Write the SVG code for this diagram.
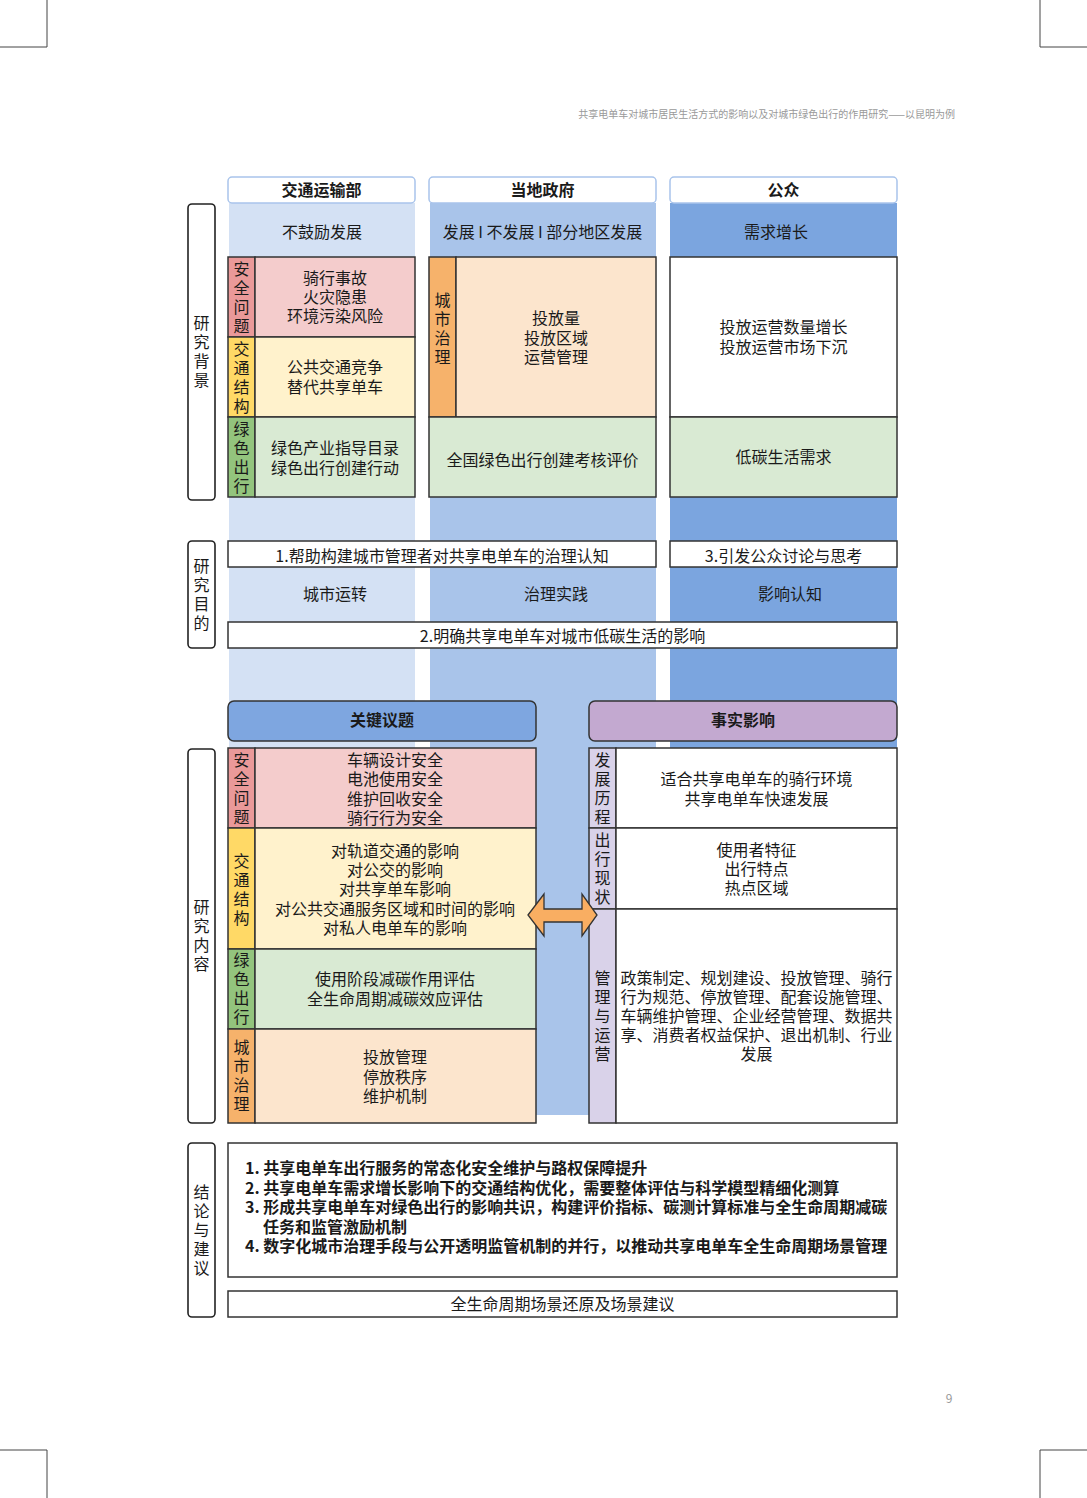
<svg xmlns="http://www.w3.org/2000/svg" width="1087" height="1498" viewBox="0 0 1087 1498">
<style>
text{font-family:"Noto Sans CJK SC","Noto Sans",sans-serif;font-size:16px;fill:#1a1a1a;text-anchor:middle}
.b{font-weight:bold}
.l{text-anchor:start}
.v{writing-mode:vertical-rl;text-anchor:start;letter-spacing:3px}
.cell{stroke:#333;stroke-width:1.5}
.side{fill:#fff;stroke:#222;stroke-width:1.6}
.hdr{fill:#fff;stroke:#A9C4EB;stroke-width:1.5}
.box{fill:#fff;stroke:#333;stroke-width:1.5}
.crop{stroke:#444;stroke-width:1;fill:none}
.red1{fill:#EA9999}.red2{fill:#F4CCCC}
.yel1{fill:#FFD966}.yel2{fill:#FFF2CC}
.grn1{fill:#93C47D}.grn2{fill:#D9EAD3}
.org1{fill:#F6B26B}.org2{fill:#FCE5CD}
.pur1{fill:#D9D2E9}
</style>

<!-- crop marks -->
<g id="cropmarks">
<path class="crop" d="M47,0V47H0M1040,0V47H1087M0,1450H47V1498M1087,1450H1040V1498"/>
</g>
<text x="955" y="118" style="font-size:10px;fill:#999;text-anchor:end">共享电单车对城市居民生活方式的影响以及对城市绿色出行的作用研究——以昆明为例</text>
<text x="949" y="1403" style="font-size:12px;fill:#999">9</text>

<!-- column backgrounds -->
<g id="columns">
<rect x="229" y="203" width="186" height="545" fill="#D4E1F4"/>
<rect x="430" y="203" width="226" height="912" fill="#A9C4EA"/>
<rect x="670" y="203" width="227" height="545" fill="#7BA5DF"/>
</g>

<!-- side labels -->
<g id="side-bg">
<rect class="side" x="188" y="204" width="27" height="296" rx="4"/>
<text class="v" x="201.5" y="315">研究背景</text>
</g>
<g id="side-purpose">
<rect class="side" x="188" y="541" width="27" height="107" rx="4"/>
<text class="v" x="201.5" y="558">研究目的</text>
</g>
<g id="side-content">
<rect class="side" x="188" y="749" width="27" height="374" rx="4"/>
<text class="v" x="201.5" y="899">研究内容</text>
</g>
<g id="side-conclusion">
<rect class="side" x="188" y="1143" width="27" height="174" rx="4"/>
<text class="v" x="201.5" y="1184">结论与建议</text>
</g>

<!-- column headers -->
<g id="hdr-transport">
<rect class="hdr" x="228" y="177" width="187" height="26" rx="4"/>
<text class="b" x="321.5" y="196">交通运输部</text>
<text x="322" y="238">不鼓励发展</text>
</g>
<g id="hdr-gov">
<rect class="hdr" x="429" y="177" width="227" height="26" rx="4"/>
<text class="b" x="542.5" y="196">当地政府</text>
<text x="542.5" y="238">发展 I 不发展 I 部分地区发展</text>
</g>
<g id="hdr-public">
<rect class="hdr" x="670" y="177" width="227" height="26" rx="4"/>
<text class="b" x="783.5" y="196">公众</text>
<text x="776" y="238">需求增长</text>
</g>

<!-- top table col1 -->
<g id="bg-safety">
<rect class="cell red1" x="228" y="257" width="27" height="80"/>
<rect class="cell red2" x="255" y="257" width="160" height="80"/>
<text class="v" x="241.5" y="261">安全问题</text>
<text x="335" y="284">骑行事故<tspan x="335" dy="19">火灾隐患</tspan><tspan x="335" dy="19">环境污染风险</tspan></text>
</g>
<g id="bg-traffic">
<rect class="cell yel1" x="228" y="337" width="27" height="80"/>
<rect class="cell yel2" x="255" y="337" width="160" height="80"/>
<text class="v" x="241.5" y="341">交通结构</text>
<text x="335" y="373">公共交通竞争<tspan x="335" dy="19.5">替代共享单车</tspan></text>
</g>
<g id="bg-green">
<rect class="cell grn1" x="228" y="417" width="27" height="80"/>
<rect class="cell grn2" x="255" y="417" width="160" height="80"/>
<text class="v" x="241.5" y="421">绿色出行</text>
<text x="335" y="454">绿色产业指导目录<tspan x="335" dy="19.5">绿色出行创建行动</tspan></text>
</g>
<!-- top table col2 -->
<g id="bg-governance">
<rect class="cell org1" x="429" y="257" width="27" height="160"/>
<rect class="cell org2" x="456" y="257" width="200" height="160"/>
<text class="v" x="442.5" y="292">城市治理</text>
<text x="556" y="324">投放量<tspan x="556" dy="19.5">投放区域</tspan><tspan x="556" dy="19.5">运营管理</tspan></text>
</g>
<g id="bg-green-eval">
<rect class="cell grn2" x="429" y="417" width="227" height="80"/>
<text x="542.5" y="466">全国绿色出行创建考核评价</text>
</g>
<!-- top table col3 -->
<g id="bg-market">
<rect class="cell" fill="#fff" x="670" y="257" width="227" height="160"/>
<text x="783.5" y="333">投放运营数量增长<tspan x="783.5" dy="19.5">投放运营市场下沉</tspan></text>
</g>
<g id="bg-lowcarbon">
<rect class="cell grn2" x="670" y="417" width="227" height="80"/>
<text x="783.5" y="463">低碳生活需求</text>
</g>

<!-- purpose -->
<g id="purpose-1">
<rect class="box" x="228" y="541" width="428" height="26"/>
<text x="442" y="562">1.帮助构建城市管理者对共享电单车的治理认知</text>
</g>
<g id="purpose-3">
<rect class="box" x="670" y="541" width="227" height="26"/>
<text x="783.5" y="562">3.引发公众讨论与思考</text>
</g>
<g id="purpose-labels">
<text x="335" y="600">城市运转</text>
<text x="556" y="600">治理实践</text>
<text x="790" y="600">影响认知</text>
</g>
<g id="purpose-2">
<rect class="box" x="228" y="622" width="669" height="26"/>
<text x="562.5" y="642">2.明确共享电单车对城市低碳生活的影响</text>
</g>

<!-- section headers -->
<g id="key-issues">
<rect x="228" y="701" width="308" height="40" rx="6" fill="#7EA6E0" stroke="#333" stroke-width="1.5"/>
<text class="b" x="382" y="726">关键议题</text>
</g>
<g id="fact-impact">
<rect x="589" y="701" width="308" height="40" rx="6" fill="#C3A9D0" stroke="#333" stroke-width="1.5"/>
<text class="b" x="743" y="726">事实影响</text>
</g>

<!-- lower left table -->
<g id="ki-safety">
<rect class="cell red1" x="228" y="748" width="27" height="80"/>
<rect class="cell red2" x="255" y="748" width="281" height="80"/>
<text class="v" x="241.5" y="752">安全问题</text>
<text x="395" y="766">车辆设计安全<tspan x="395" dy="19">电池使用安全</tspan><tspan x="395" dy="19.5">维护回收安全</tspan><tspan x="395" dy="19">骑行行为安全</tspan></text>
</g>
<g id="ki-traffic">
<rect class="cell yel1" x="228" y="828" width="27" height="121"/>
<rect class="cell yel2" x="255" y="828" width="281" height="121"/>
<text class="v" x="241.5" y="853">交通结构</text>
<text x="395" y="857">对轨道交通的影响<tspan x="395" dy="19">对公交的影响</tspan><tspan x="395" dy="19">对共享单车影响</tspan><tspan x="395" dy="19.5">对公共交通服务区域和时间的影响</tspan><tspan x="395" dy="19">对私人电单车的影响</tspan></text>
</g>
<g id="ki-green">
<rect class="cell grn1" x="228" y="949" width="27" height="80"/>
<rect class="cell grn2" x="255" y="949" width="281" height="80"/>
<text class="v" x="241.5" y="952">绿色出行</text>
<text x="395" y="985">使用阶段减碳作用评估<tspan x="395" dy="20">全生命周期减碳效应评估</tspan></text>
</g>
<g id="ki-governance">
<rect class="cell org1" x="228" y="1029" width="27" height="94"/>
<rect class="cell org2" x="255" y="1029" width="281" height="94"/>
<text class="v" x="241.5" y="1039">城市治理</text>
<text x="395" y="1063">投放管理<tspan x="395" dy="19.5">停放秩序</tspan><tspan x="395" dy="19.5">维护机制</tspan></text>
</g>

<!-- lower right table -->
<g id="fi-history">
<rect class="cell pur1" x="589" y="748" width="27" height="80"/>
<rect class="cell" fill="#fff" x="616" y="748" width="281" height="80"/>
<text class="v" x="602.5" y="752">发展历程</text>
<text x="756.5" y="785">适合共享电单车的骑行环境<tspan x="756.5" dy="19.5">共享电单车快速发展</tspan></text>
</g>
<g id="fi-status">
<rect class="cell pur1" x="589" y="828" width="27" height="81"/>
<rect class="cell" fill="#fff" x="616" y="828" width="281" height="81"/>
<text class="v" x="602.5" y="832">出行现状</text>
<text x="756.5" y="856">使用者特征<tspan x="756.5" dy="19">出行特点</tspan><tspan x="756.5" dy="19">热点区域</tspan></text>
</g>
<g id="fi-management">
<rect class="cell pur1" x="589" y="909" width="27" height="214"/>
<rect class="cell" fill="#fff" x="616" y="909" width="281" height="214"/>
<text class="v" x="602.5" y="970">管理与运营</text>
<text x="756.5" y="984">政策制定、规划建设、投放管理、骑行<tspan x="756.5" dy="19">行为规范、停放管理、配套设施管理、</tspan><tspan x="756.5" dy="19">车辆维护管理、企业经营管理、数据共</tspan><tspan x="756.5" dy="19">享、消费者权益保护、退出机制、行业</tspan><tspan x="756.5" dy="19">发展</tspan></text>
</g>

<!-- connectors -->
<g id="connectors">
<polygon points="528,915 544,894 544,909 582,909 582,894 597,915 582,936 582,922 544,922 544,936" fill="#F9AE62" stroke="#333" stroke-width="1.3" stroke-linejoin="miter"/>
</g>

<!-- conclusions -->
<g id="conclusions">
<rect class="box" x="228" y="1143" width="669" height="134"/>
<text class="b l" x="245" y="1174">1. 共享电单车出行服务的常态化安全维护与路权保障提升</text>
<text class="b l" x="245" y="1194">2. 共享电单车需求增长影响下的交通结构优化，需要整体评估与科学模型精细化测算</text>
<text class="b l" x="245" y="1213">3. 形成共享电单车对绿色出行的影响共识，构建评价指标、碳测计算标准与全生命周期减碳</text>
<text class="b l" x="263" y="1233">任务和监管激励机制</text>
<text class="b l" x="245" y="1252">4. 数字化城市治理手段与公开透明监管机制的并行，以推动共享电单车全生命周期场景管理</text>
</g>
<g id="lifecycle">
<rect class="box" x="228" y="1291" width="669" height="26"/>
<text x="562.5" y="1310">全生命周期场景还原及场景建议</text>
</g>
</svg>
